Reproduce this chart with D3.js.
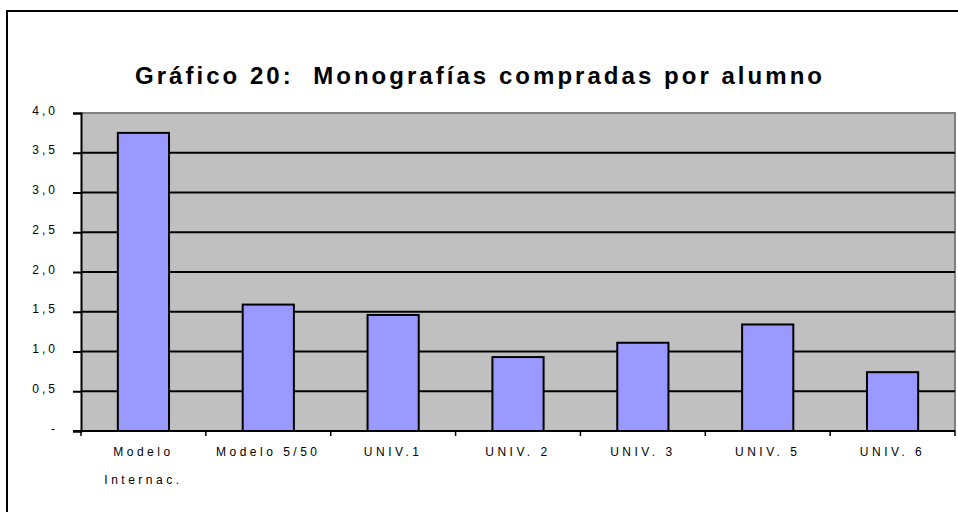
<!DOCTYPE html>
<html>
<head>
<meta charset="utf-8">
<script src="https://cdn.jsdelivr.net/npm/d3@7"></script>
<style>
  html, body { margin: 0; padding: 0; background: #fff; }
  svg { display: block; }
  text { font-family: "Liberation Sans", Arial, sans-serif; fill: #000; }
</style>
</head>
<body>
<svg id="chart" width="958" height="512"></svg>
<script>
const title = "Gráfico 20:  Monografías compradas por alumno";
const categories = ["Modelo Internac.", "Modelo 5/50", "UNIV.1", "UNIV. 2", "UNIV. 3", "UNIV. 5", "UNIV. 6"];
const categoryLines = [["Modelo", "Internac."], ["Modelo 5/50"], ["UNIV.1"], ["UNIV. 2"], ["UNIV. 3"], ["UNIV. 5"], ["UNIV. 6"]];
const values = [3.75, 1.59, 1.46, 0.93, 1.11, 1.34, 0.74];
const yTicks = [0, 0.5, 1.0, 1.5, 2.0, 2.5, 3.0, 3.5, 4.0];
const yTickLabels = ["-", "0,5", "1,0", "1,5", "2,0", "2,5", "3,0", "3,5", "4,0"];

const svg = d3.select("#chart");
const plot = { left: 81, right: 955, top: 113, bottom: 431 };

// outer frame (extends beyond right and bottom edges)
svg.append("rect")
  .attr("x", 7).attr("y", 11)
  .attr("width", 1000).attr("height", 1000)
  .attr("fill", "none").attr("stroke", "#000").attr("stroke-width", 2);

svg.append("text")
  .attr("x", 135).attr("y", 84)
  .attr("font-size", 24).attr("font-weight", "bold")
  .attr("textLength", 687).attr("lengthAdjust", "spacing")
  .style("white-space", "pre")
  .text(title);

const x = d3.scaleBand().domain(categories)
  .range([plot.left, plot.right])
  .paddingInner(0.59).paddingOuter(0.295);
const y = d3.scaleLinear().domain([0, 4]).range([plot.bottom, plot.top]);

// plot background
svg.append("rect")
  .attr("x", plot.left).attr("y", plot.top)
  .attr("width", plot.right - plot.left).attr("height", plot.bottom - plot.top)
  .attr("fill", "#C0C0C0");

// top & right border (gray)
svg.append("path")
  .attr("d", `M${plot.left},${y(4)}H${plot.right}V${plot.bottom}`)
  .attr("fill", "none").attr("stroke", "#808080").attr("stroke-width", 2);

// gridlines
svg.append("g").selectAll("line")
  .data(yTicks.filter(d => d > 0 && d < 4))
  .join("line")
  .attr("x1", plot.left).attr("x2", plot.right)
  .attr("y1", d => y(d)).attr("y2", d => y(d))
  .attr("stroke", "#000").attr("stroke-width", 2);

// bars
svg.append("g").selectAll("rect")
  .data(values)
  .join("rect")
  .attr("x", (d, i) => x(categories[i]))
  .attr("y", d => y(d))
  .attr("width", x.bandwidth())
  .attr("height", d => y(0) - y(d))
  .attr("fill", "#9999FF")
  .attr("stroke", "#000").attr("stroke-width", 2);

// y axis
const yAxis = d3.axisLeft(y).tickValues(yTicks)
  .tickFormat((d, i) => yTickLabels[i])
  .tickSize(8).tickPadding(15);
const gy = svg.append("g").attr("transform", `translate(${plot.left},0)`).call(yAxis);
gy.select(".domain").attr("stroke", "#000").attr("stroke-width", 2);
gy.selectAll(".tick line").attr("stroke", "#000").attr("stroke-width", 2);
gy.selectAll(".tick text")
  .attr("font-size", 12).attr("letter-spacing", 3)
  .attr("font-family", "Liberation Sans, Arial, sans-serif")
  .attr("dy", "0.1em").attr("fill", "#000");

// x axis
const gx = svg.append("g").attr("transform", `translate(0,${plot.bottom})`);
gx.append("line")
  .attr("x1", plot.left - 8).attr("x2", plot.right)
  .attr("y1", 0).attr("y2", 0)
  .attr("stroke", "#000").attr("stroke-width", 2);
const boundaries = categories.map(c => x(c) - x.step() * x.paddingOuter()).concat([plot.right]);
gx.selectAll("line.tk")
  .data(boundaries)
  .join("line").attr("class", "tk")
  .attr("x1", d => d).attr("x2", d => d)
  .attr("y1", 0).attr("y2", 5)
  .attr("stroke", "#000").attr("stroke-width", 1.5);
const lbl = gx.selectAll("text.lbl")
  .data(categories)
  .join("text").attr("class", "lbl")
  .attr("text-anchor", "middle")
  .attr("font-size", 12).attr("letter-spacing", 3.5);
lbl.each(function(c, i) {
  const t = d3.select(this);
  categoryLines[i].forEach((line, j) => {
    t.append("tspan")
      .attr("x", x(c) + x.bandwidth() / 2)
      .attr("y", 25 + j * 28)
      .text(line);
  });
});
</script>
</body>
</html>
